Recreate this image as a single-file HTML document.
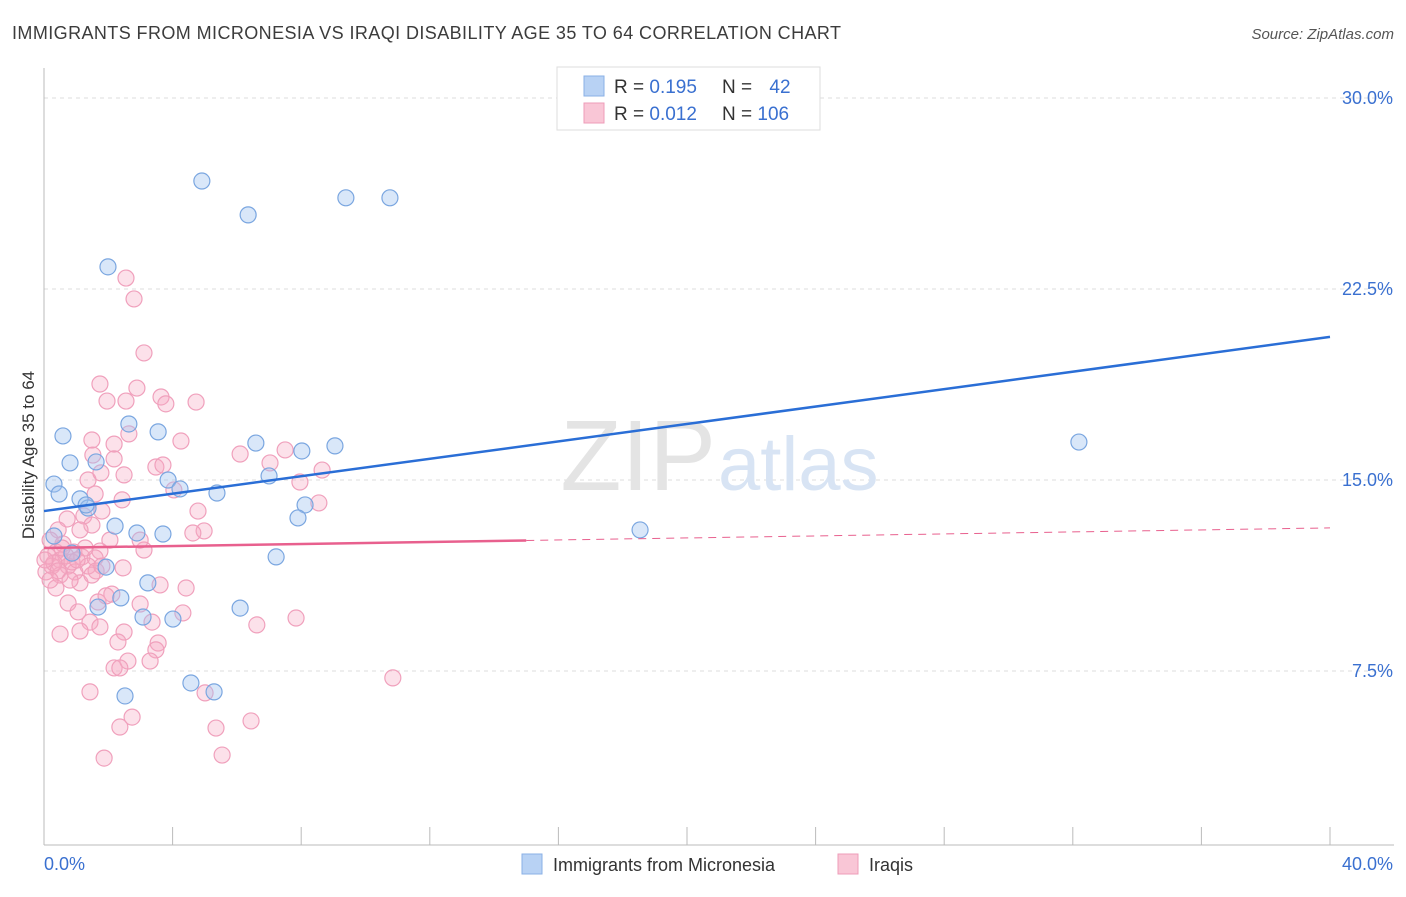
<!DOCTYPE html>
<html><head><meta charset="utf-8"><style>
body{margin:0;background:#fff;font-family:"Liberation Sans",sans-serif;}
svg text{font-family:"Liberation Sans",sans-serif;}
</style></head><body>
<svg id="chart" width="1406" height="892">
<text x="12" y="39" font-size="18" fill="#3c3c3c" textLength="829" lengthAdjust="spacing">IMMIGRANTS FROM MICRONESIA VS IRAQI DISABILITY AGE 35 TO 64 CORRELATION CHART</text>
<text x="1394" y="39" font-size="15" fill="#555" font-style="italic" text-anchor="end">Source: ZipAtlas.com</text>
<g id="grid"></g>
<text x="716" y="490" font-size="100" fill="#e4e4e4" text-anchor="end" font-family="Liberation Serif">ZIP</text>
<text x="718" y="490" font-size="76" fill="#d8e4f4">atlas</text>
<g id="axes"></g>
<g id="marks"></g>
<text transform="translate(34,455) rotate(-90)" font-size="17" fill="#333" text-anchor="middle">Disability Age 35 to 64</text>
<g>
<rect x="557" y="67" width="263" height="63" fill="#fff" stroke="#ddd"/>
<rect x="584" y="76" width="20" height="20" fill="#b8d2f4" stroke="#8ab0e6"/>
<rect x="584" y="103" width="20" height="20" fill="#f9c6d6" stroke="#ee9cb8"/>
<text x="614" y="93" font-size="19" fill="#333">R = <tspan fill="#3a70d0">0.195</tspan></text>
<text x="722" y="93" font-size="19" fill="#333">N = <tspan fill="#3a70d0" dx="12">42</tspan></text>
<text x="614" y="120" font-size="19" fill="#333">R = <tspan fill="#3a70d0">0.012</tspan></text>
<text x="722" y="120" font-size="19" fill="#333">N = <tspan fill="#3a70d0">106</tspan></text>
</g>
<g>
<rect x="522" y="854" width="20" height="20" fill="#b8d2f4" stroke="#8ab0e6"/>
<text x="553" y="871" font-size="18" fill="#333">Immigrants from Micronesia</text>
<rect x="838" y="854" width="20" height="20" fill="#f9c6d6" stroke="#ee9cb8"/>
<text x="869" y="871" font-size="18" fill="#333">Iraqis</text>
</g>
</svg>
<script>
const yTicks=[7.5,15,22.5,30];
const yTickLabels=["7.5%","15.0%","22.5%","30.0%"];
const xTicks=[0,4,8,12,16,20,24,28,32,36,40];
const blueX=[4.91,6.35,9.39,10.76,1.99,32.19,2.64,3.55,0.59,6.59,8.02,9.05,0.81,1.62,0.31,0.47,1.12,1.37,3.86,4.23,5.38,7.00,8.12,7.90,2.21,2.89,3.70,18.54,7.22,1.93,3.23,2.39,1.68,3.08,4.01,6.10,4.57,5.29,2.52,0.31,0.87,1.31];
const blueY=[26.74,25.41,26.08,26.08,23.37,16.49,17.20,16.89,16.73,16.45,16.14,16.34,15.67,15.71,14.84,14.45,14.26,13.90,15.00,14.65,14.49,15.16,14.02,13.51,13.19,12.92,12.88,13.04,11.98,11.58,10.96,10.37,10.01,9.62,9.54,9.97,7.03,6.68,6.52,12.80,12.13,14.02];
const pinkX=[2.55,2.80,3.11,1.74,2.89,1.96,2.55,3.64,4.73,3.79,1.49,2.64,2.18,4.26,6.10,7.50,1.52,2.18,7.03,3.48,3.70,8.65,1.37,1.77,2.49,7.96,4.04,1.59,2.43,8.55,4.79,1.80,1.24,0.72,1.49,0.44,1.12,4.98,4.63,0.19,0.59,2.05,3.11,0.37,0.93,1.74,0.12,0.50,1.18,1.59,0.25,0.75,1.37,0.06,0.50,0.96,1.62,2.46,0.37,1.12,3.61,4.42,0.75,1.68,2.11,1.06,1.93,2.99,4.32,1.43,1.74,1.12,2.49,3.36,7.84,6.62,0.50,2.30,3.55,3.48,2.18,2.61,3.30,2.36,10.85,1.43,5.01,2.74,2.36,5.35,6.44,1.87,5.54,0.68,0.87,0.31,0.56,1.28,1.03,0.44,1.49,0.81,0.19,0.03,1.80,2.99];
const pinkY=[22.93,22.11,19.99,18.77,18.61,18.10,18.10,18.26,18.06,17.99,16.57,16.81,16.41,16.53,16.02,16.18,15.98,15.83,15.67,15.51,15.59,15.39,15.00,15.28,15.20,14.92,14.61,14.45,14.22,14.10,13.78,13.78,13.59,13.47,13.23,13.04,13.04,13.00,12.92,12.64,12.49,12.64,12.25,12.17,12.17,12.21,12.02,11.86,11.98,11.94,11.62,11.62,11.62,11.39,11.27,11.39,11.43,11.55,10.76,10.96,10.88,10.76,10.17,10.21,10.52,9.82,10.45,10.13,9.78,9.42,9.23,9.07,9.03,9.42,9.58,9.31,8.95,8.64,8.60,8.33,7.62,7.89,7.89,7.62,7.23,6.68,6.64,5.69,5.30,5.26,5.54,4.08,4.20,12.02,11.78,11.74,12.33,12.33,11.86,11.43,11.27,11.07,11.07,11.86,11.62,12.64];
const blueTrend=[13.78,20.62];
const pinkTrend=[12.33,13.12];
const pinkSolidEnd=15;
const X=v=>44+v/40*1286, Y=v=>862-v/7.5*191;
const NS="http://www.w3.org/2000/svg";
function mk(p,t,a){const e=document.createElementNS(NS,t);for(const k in a)e.setAttribute(k,a[k]);document.getElementById(p).appendChild(e);return e;}
yTicks.forEach((t,i)=>{
 const g=mk('grid','line',{x1:44,x2:1394,y1:Y(t),y2:Y(t),stroke:'#ddd','stroke-dasharray':'4,4'});
 
 
 const l=mk('axes','text',{x:1393,y:Y(t)+6,'font-size':18,fill:'#3a70d0','text-anchor':'end'});l.textContent=yTickLabels[i];
 
 
});
const ax=mk('axes','line',{x1:44,x2:1394,y1:845,y2:845,stroke:'#bbb'});


const ay=mk('axes','line',{x1:44,x2:44,y1:68,y2:845,stroke:'#bbb'});


xTicks.forEach(t=>{const e=mk('axes','line',{x1:X(t),x2:X(t),y1:827,y2:845,stroke:'#bbb'});
 
 });
const xl0=mk('axes','text',{x:44,y:870,'font-size':18,fill:'#3a70d0'});xl0.textContent='0.0%';


const xl1=mk('axes','text',{x:1393,y:870,'font-size':18,fill:'#3a70d0','text-anchor':'end'});xl1.textContent='40.0%';


pinkX.forEach((x,i)=>{const c=mk('marks','circle',{cx:X(x),cy:Y(pinkY[i]),r:8,fill:'rgba(246,170,196,0.35)',stroke:'#f0a0bc','stroke-width':1.2});
 
 });
blueX.forEach((x,i)=>{const c=mk('marks','circle',{cx:X(x),cy:Y(blueY[i]),r:8,fill:'rgba(160,196,240,0.4)',stroke:'#7aa6e0','stroke-width':1.2});
 
 });
const pv=x=>pinkTrend[0]+(pinkTrend[1]-pinkTrend[0])*x/40;
const t1=mk('marks','line',{x1:X(0),y1:Y(blueTrend[0]),x2:X(40),y2:Y(blueTrend[1]),stroke:'#2a6ed6','stroke-width':2.5});


const t2=mk('marks','line',{x1:X(0),y1:Y(pv(0)),x2:X(pinkSolidEnd),y2:Y(pv(pinkSolidEnd)),stroke:'#e8608e','stroke-width':2.5});


const t3=mk('marks','line',{x1:X(pinkSolidEnd),y1:Y(pv(pinkSolidEnd)),x2:X(40),y2:Y(pv(40)),stroke:'#e8608e','stroke-width':1,'stroke-dasharray':'8,6'});


</script>
</body></html>
